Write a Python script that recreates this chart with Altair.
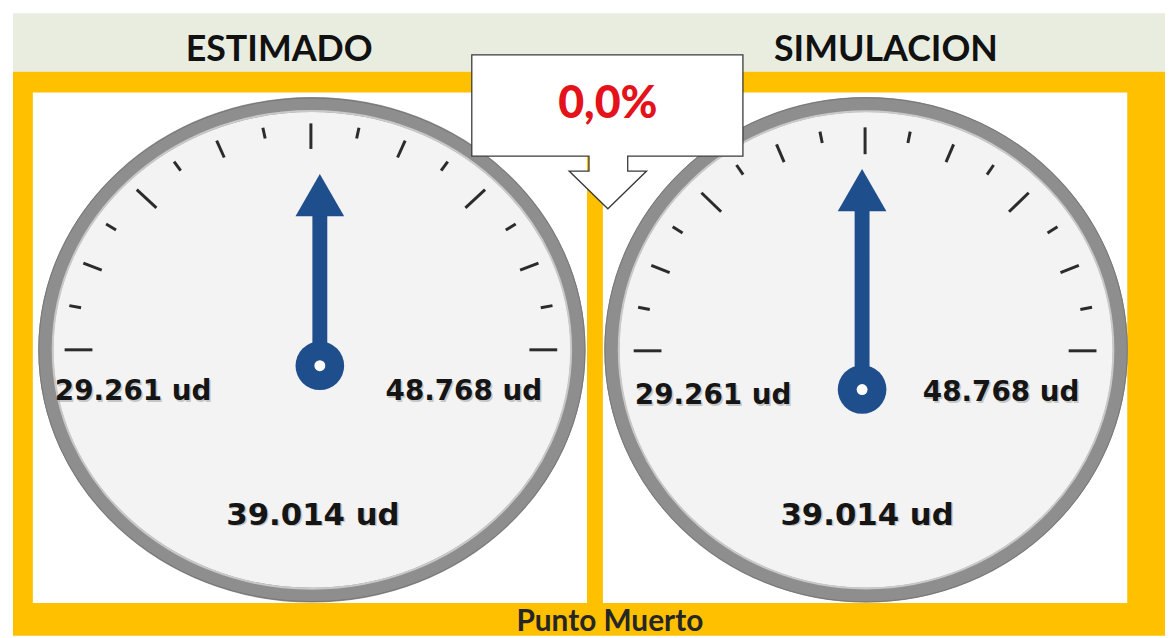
import math
import altair as alt
import pandas as pd

# ---------------- data ----------------
gauge_names = ["ESTIMADO", "SIMULACION"]
gauge_min = [29261, 29261]
gauge_max = [48768, 48768]
gauge_value = [39014, 39014]
unit_label = "ud"
variation_label = "0,0%"
footer_label = "Punto Muerto"
dial_divisions = 16  # graduations of the dial between min and max


def fmt(v):
    return f"{v:,}".replace(",", ".") + " " + unit_label


# ---------------- layout (page pixel coordinates) ----------------
LAYOUT = {
    "ESTIMADO": dict(panel=(33, 591), title_x=281,
                     cx=314, cy=350, ring_rx=268, ring_ry=247,
                     tcx=313, tcy=350, trx=248, try_=228,
                     hub=(322, 366), needle_len=193,
                     lab_min=(134, 393), lab_max=(467, 393), lab_val=(315, 517)),
    "SIMULACION": dict(panel=(607, 1135), title_x=892,
                       cx=872, cy=350, ring_rx=256, ring_ry=247,
                       tcx=871, tcy=351, trx=233, try_=225,
                       hub=(868, 390), needle_len=222,
                       lab_min=(718, 397), lab_max=(1008, 394), lab_val=(873, 517)),
}
NEEDLE = "#1F4E8C"
GOLD = "#FFC000"

sx = alt.Scale(domain=[8, 1173], nice=False, zero=False)
sy = alt.Scale(domain=[8, 638], nice=False, zero=False, reverse=True)


def X(f):
    return alt.X(f"{f}:Q", scale=sx, axis=None)


def Y(f):
    return alt.Y(f"{f}:Q", scale=sy, axis=None)


def ellipse_path(q):
    k = 0.5523
    return (f"M1,0 C1,{k*q:.4f} {k},{q:.4f} 0,{q:.4f} "
            f"C{-k},{q:.4f} -1,{k*q:.4f} -1,0 "
            f"C-1,{-k*q:.4f} {-k},{-q:.4f} 0,{-q:.4f} "
            f"C{k},{-q:.4f} 1,{-k*q:.4f} 1,0 Z")


# ---------------- background rectangles ----------------
rects = pd.DataFrame([
    dict(x=13, x2=1173, y=11, y2=70, c="#E9EDE0"),
    dict(x=13, x2=1173, y=70, y2=638, c=GOLD),
    dict(x=LAYOUT["ESTIMADO"]["panel"][0], x2=LAYOUT["ESTIMADO"]["panel"][1], y=91, y2=605, c="#FFFFFF"),
    dict(x=LAYOUT["SIMULACION"]["panel"][0], x2=LAYOUT["SIMULACION"]["panel"][1], y=91, y2=605, c="#FFFFFF"),
])
bg = alt.Chart(rects).mark_rect().encode(
    x=X("x"), x2="x2", y=Y("y"), y2="y2", color=alt.Color("c:N", scale=None))

# ---------------- titles ----------------
titles = pd.DataFrame({"t": gauge_names,
                       "x": [LAYOUT[g]["title_x"] for g in gauge_names],
                       "y": [48, 48]})
title_layer = alt.Chart(titles).mark_text(
    font="Lato", fontWeight="bold", fontSize=36, color="#111111",
    align="center", baseline="middle").encode(x=X("x"), y=Y("y"), text="t:N")

# ---------------- dial faces and rings ----------------
rows = []
for g in gauge_names:
    L = LAYOUT[g]
    q = L["ring_ry"] / L["ring_rx"]
    rows.append(dict(x=L["cx"], y=L["cy"], shape=ellipse_path(q), size=(2 * L["ring_rx"]) ** 2,
                     inner=(2 * (L["ring_rx"] - 7)) ** 2, outer=(2 * (L["ring_rx"] + 7)) ** 2))
dial = pd.DataFrame(rows)
face = alt.Chart(dial).mark_point(filled=True, fill="#F3F3F3", opacity=1, strokeWidth=0).encode(
    x=X("x"), y=Y("y"), shape=alt.Shape("shape:N", scale=None), size=alt.Size("size:Q", scale=None))
ring = alt.Chart(dial).mark_point(filled=False, stroke="#8E8E8E", strokeWidth=15, opacity=1).encode(
    x=X("x"), y=Y("y"), shape=alt.Shape("shape:N", scale=None), size=alt.Size("size:Q", scale=None))
ring_in = alt.Chart(dial).mark_point(filled=False, stroke="#C9C9C9", strokeWidth=2, opacity=1).encode(
    x=X("x"), y=Y("y"), shape=alt.Shape("shape:N", scale=None), size=alt.Size("inner:Q", scale=None))
ring_out = alt.Chart(dial).mark_point(filled=False, stroke="#777777", strokeWidth=1, opacity=1).encode(
    x=X("x"), y=Y("y"), shape=alt.Shape("shape:N", scale=None), size=alt.Size("outer:Q", scale=None))

# ---------------- graduations ----------------
trows = []
for g, lo, hi in zip(gauge_names, gauge_min, gauge_max):
    L = LAYOUT[g]
    for i in range(dial_divisions + 1):
        frac = i / dial_divisions
        th = math.pi * (1 - frac)
        ln = 28 if i % 4 == 0 else (20 if i % 2 == 0 else 12)
        c, s = math.cos(th), math.sin(th)
        trows.append(dict(x=L["tcx"] + L["trx"] * c, y=L["tcy"] - L["try_"] * s,
                          x2=L["tcx"] + (L["trx"] - ln) * c,
                          y2=L["tcy"] - (L["try_"] - ln * L["try_"] / L["trx"]) * s))
ticks = alt.Chart(pd.DataFrame(trows)).mark_rule(color="#2B2B2B", strokeWidth=3).encode(
    x=X("x"), y=Y("y"), x2="x2", y2="y2")

# ---------------- labels ----------------
lrows = []
for g, lo, hi, v in zip(gauge_names, gauge_min, gauge_max, gauge_value):
    L = LAYOUT[g]
    lrows.append(dict(x=L["lab_min"][0], y=L["lab_min"][1], t=fmt(lo), fs=28))
    lrows.append(dict(x=L["lab_max"][0], y=L["lab_max"][1], t=fmt(hi), fs=28))
    lrows.append(dict(x=L["lab_val"][0], y=L["lab_val"][1], t=fmt(v), fs=31))
lab_df = pd.DataFrame(lrows)
labels_shadow = alt.Chart(lab_df).mark_text(
    font="DejaVu Sans", fontWeight="bold", color="#9A9A9A", opacity=0.5,
    align="center", baseline="middle", dx=1.5, dy=1.5).encode(
    x=X("x"), y=Y("y"), text="t:N", size=alt.Size("fs:Q", scale=None))
labels = alt.Chart(lab_df).mark_text(
    font="DejaVu Sans", fontWeight="bold", color="#151515",
    align="center", baseline="middle").encode(
    x=X("x"), y=Y("y"), text="t:N", size=alt.Size("fs:Q", scale=None))

# ---------------- needles ----------------
R_HEAD = 24.5
H_HEAD = math.sqrt(3) * R_HEAD / 2
nrows = []
for g, lo, hi, v in zip(gauge_names, gauge_min, gauge_max, gauge_value):
    L = LAYOUT[g]
    frac = (v - lo) / (hi - lo)
    th = math.pi * (1 - frac)
    c, s = math.cos(th), math.sin(th)
    hx, hy = L["hub"]
    d_head = L["needle_len"] - H_HEAD
    d_shaft = L["needle_len"] - 2 * H_HEAD + 2
    nrows.append(dict(hx=hx, hy=hy, sx=hx + d_shaft * c, sy=hy - d_shaft * s,
                      ax=hx + d_head * c, ay=hy - d_head * s,
                      rot=90 - math.degrees(th)))
nd = pd.DataFrame(nrows)
shaft = alt.Chart(nd).mark_rule(color=NEEDLE, strokeWidth=15).encode(
    x=X("hx"), y=Y("hy"), x2="sx", y2="sy")
head = alt.Chart(nd).mark_point(shape="triangle-up", filled=True, fill=NEEDLE, opacity=1,
                                strokeWidth=0, size=(2 * R_HEAD) ** 2).encode(
    x=X("ax"), y=Y("ay"), angle=alt.Angle("rot:Q", scale=None))
hub = alt.Chart(nd).mark_point(shape="circle", filled=True, fill=NEEDLE, opacity=1,
                               strokeWidth=0, size=49 ** 2).encode(x=X("hx"), y=Y("hy"))
hub_dot = alt.Chart(nd).mark_point(shape="circle", filled=True, fill="#FFFFFF", opacity=1,
                                   strokeWidth=0, size=11 ** 2).encode(x=X("hx"), y=Y("hy"))

# ---------------- callout ----------------
CALLOUT_PATH = ("M-1.37,-0.77 L1.36,-0.77 L1.36,0.25 L0.20,0.25 L0.20,0.40 L0.39,0.40 "
                "L0,0.78 L-0.39,0.40 L-0.19,0.40 L-0.19,0.25 L-1.37,0.25 Z")
call = pd.DataFrame({"x": [612], "y": [130], "t": [variation_label], "ty": [103]})
callout = alt.Chart(call).mark_point(shape=CALLOUT_PATH, filled=True, fill="#FFFFFF",
                                     stroke="#3A3A3A", strokeWidth=1.3, opacity=1,
                                     size=200 ** 2).encode(x=X("x"), y=Y("y"))
callout_text = alt.Chart(call).mark_text(font="Lato", fontWeight=900, fontSize=45,
                                         color="#E3121B", align="center",
                                         baseline="middle").encode(x=X("x"), y=Y("ty"), text="t:N")

# ---------------- footer ----------------
foot = pd.DataFrame({"x": [614], "y": [624], "t": [footer_label]})
footer = alt.Chart(foot).mark_text(font="Lato", fontWeight="bold", fontSize=30,
                                   color="#262626", align="center",
                                   baseline="middle").encode(x=X("x"), y=Y("y"), text="t:N")

chart = alt.layer(bg, title_layer, face, ring, ring_in, ring_out, ticks, labels_shadow, labels,
                  shaft, head, hub, hub_dot, callout, callout_text, footer).properties(
    width=1165, height=630, padding=0,
    autosize=alt.AutoSizeParams(type="none"),
).configure_view(stroke=None)

chart.save("out.html", embed_options={"renderer": "svg", "actions": False})
